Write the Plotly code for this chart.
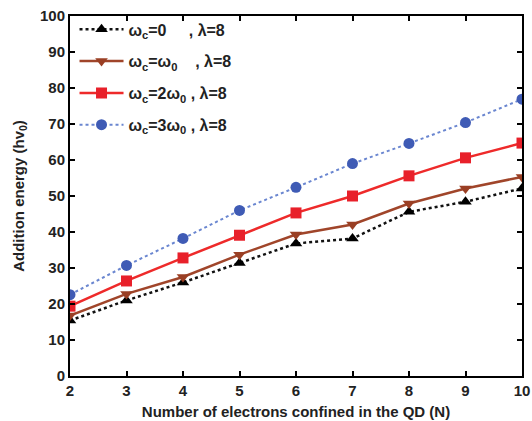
import plotly.graph_objects as go

N = [2, 3, 4, 5, 6, 7, 8, 9, 10]
e_wc0 = [15.4, 21.0, 26.0, 31.4, 36.8, 38.2, 45.6, 48.4, 52.1]
e_wc1 = [16.8, 22.8, 27.5, 33.7, 39.3, 42.1, 47.9, 52.1, 55.3]
e_wc2 = [19.4, 26.4, 32.8, 39.1, 45.3, 50.0, 55.6, 60.6, 64.7]
e_wc3 = [22.6, 30.7, 38.2, 46.0, 52.4, 59.0, 64.6, 70.4, 76.9]
names = [
    "ω<sub>c</sub>=0     , λ=8",
    "ω<sub>c</sub>=ω<sub>0</sub>    , λ=8",
    "ω<sub>c</sub>=2ω<sub>0</sub> , λ=8",
    "ω<sub>c</sub>=3ω<sub>0</sub> , λ=8",
]
x_ticks = [2, 3, 4, 5, 6, 7, 8, 9, 10]
y_ticks = [0, 10, 20, 30, 40, 50, 60, 70, 80, 90, 100]

FONT = "Liberation Sans, Arial"
fig = go.Figure()
styles = [
    dict(lc="#111111", mc="#000000", dash="dot", sym="triangle-up", w=2.5),
    dict(lc="#A0452A", mc="#9A3F24", dash="solid", sym="triangle-down", w=2.5),
    dict(lc="#EE2A2A", mc="#E8202A", dash="solid", sym="square", w=2.5),
    dict(lc="#6A86D0", mc="#3F5BB5", dash="dot", sym="circle", w=2),
]
for i, (ys, nm, s) in enumerate(zip([e_wc0, e_wc1, e_wc2, e_wc3], names, styles)):
    fig.add_trace(go.Scatter(
        x=N, y=ys, name=nm, mode="lines+markers", legendgroup=f"g{i}",
        line=dict(color=s["lc"], width=s["w"], dash=s["dash"]),
        marker=dict(symbol=s["sym"], size=11, color=s["mc"]),
    ))

axis_common = dict(
    showline=True, linecolor="black", linewidth=2, mirror="ticks",
    ticks="inside", ticklen=5, tickwidth=2, tickcolor="black",
    showgrid=False, zeroline=False, automargin=False,
    tickfont=dict(family=FONT, size=15, color="#222", weight="bold"),
)
fig.update_xaxes(range=[2, 10], tickvals=x_ticks,
                 title=dict(text="Number of electrons confined in the QD (N)",
                            font=dict(family=FONT, size=15, color="#222", weight="bold"),
                            standoff=8),
                 **axis_common)
fig.update_yaxes(range=[0, 100], tickvals=y_ticks,
                 title=dict(text="Addition energy (hv<sub>0</sub>)",
                            font=dict(family=FONT, size=15, color="#222", weight="bold"),
                            standoff=12),
                 **axis_common)
fig.update_layout(
    width=532, height=421,
    margin=dict(l=70, r=10, t=16, b=45),
    plot_bgcolor="white", paper_bgcolor="white",
    legend=dict(x=0.01, y=1.01, xanchor="left", yanchor="top",
                bgcolor="rgba(255,255,255,0)",
                font=dict(family=FONT, size=16, color="#222", weight="bold"),
                tracegroupgap=8, itemwidth=44),
)
fig.write_html("out.html", post_script="document.body.style.margin='0';",
               config={"displayModeBar": False})
